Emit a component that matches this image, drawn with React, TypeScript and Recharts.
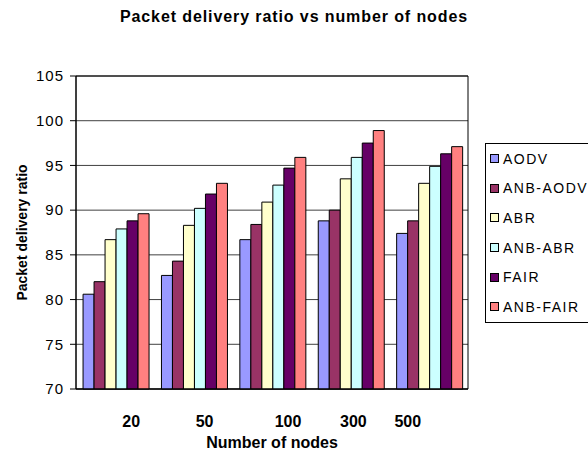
import React from "react";
import {
  BarChart,
  Bar,
  XAxis,
  YAxis,
  CartesianGrid,
  Label,
  ReferenceArea,
} from "recharts";

const categories = ["20", "50", "100", "300", "500"];
const aodv = [80.6, 82.7, 86.7, 88.8, 87.4];
const anbAodv = [82.0, 84.3, 88.4, 90.0, 88.8];
const abr = [86.7, 88.3, 90.9, 93.5, 93.0];
const anbAbr = [87.9, 90.2, 92.8, 95.9, 94.9];
const fair = [88.8, 91.8, 94.7, 97.5, 96.3];
const anbFair = [89.6, 93.0, 95.9, 98.9, 97.1];
const yTicks = [70, 75, 80, 85, 90, 95, 100, 105];

const SERIES = [
  { key: "AODV", values: aodv, color: "#9999FF" },
  { key: "ANB-AODV", values: anbAodv, color: "#993366" },
  { key: "ABR", values: abr, color: "#FFFFCC" },
  { key: "ANB-ABR", values: anbAbr, color: "#CCFFFF" },
  { key: "FAIR", values: fair, color: "#660066" },
  { key: "ANB-FAIR", values: anbFair, color: "#FF8080" },
];

// the category labels sit a little off their groups in the original
const labelShift = [16, 11, 16, 3, -21];

const FONT = "'Liberation Sans', Arial, sans-serif";

const data = categories.map((c, i) => {
  const row: Record<string, string | number> = { nodes: c };
  SERIES.forEach((s) => (row[s.key] = s.values[i]));
  return row;
});

function NodeTick(props: any) {
  const { x, y, payload, index } = props;
  return (
    <text
      x={x + (labelShift[index] ?? 0)}
      y={y}
      dy="0.71em"
      textAnchor="middle"
      fontFamily={FONT}
      fontSize={16}
      fontWeight="bold"
      fill="#000"
    >
      {payload.value}
    </text>
  );
}

function LegendBox() {
  return (
    <div
      style={{
        position: "absolute",
        left: 485,
        top: 143,
        border: "1px solid #000",
        width: 112,
        fontFamily: FONT,
        fontSize: 14,
        letterSpacing: 1.5,
        background: "#fff",
      }}
    >
      {SERIES.map((s) => (
        <div
          key={s.key}
          style={{ height: 29.6, display: "flex", alignItems: "center", paddingLeft: 4 }}
        >
          <span
            style={{
              display: "inline-block",
              width: 7,
              height: 7,
              border: "1px solid #000",
              background: s.color,
              marginRight: 4,
            }}
          />
          <span style={{ whiteSpace: "nowrap" }}>{s.key}</span>
        </div>
      ))}
    </div>
  );
}

export default function App() {
  return (
    <div
      style={{
        position: "absolute",
        left: 0,
        top: 0,
        width: 588,
        height: 451,
        overflow: "hidden",
        background: "#fff",
      }}
    >
      <div
        style={{
          position: "absolute",
          left: 294,
          top: 8,
          transform: "translateX(-50%)",
          whiteSpace: "nowrap",
          fontFamily: FONT,
          fontSize: 16,
          letterSpacing: 0.9,
          fontWeight: "bold",
        }}
      >
        Packet delivery ratio vs number of nodes
      </div>
      <BarChart
        width={588}
        height={451}
        data={data}
        margin={{ top: 76, right: 120, bottom: 0, left: 0 }}
        barCategoryGap="9%"
        barGap={0}
      >
        <CartesianGrid vertical={false} stroke="#404040" />
        <ReferenceArea y1={70} y2={105} fill="none" stroke="#000" strokeWidth={1} ifOverflow="visible" />
        <XAxis
          dataKey="nodes"
          height={62}
          axisLine={{ stroke: "#000" }}
          tickLine={false}
          tickSize={0}
          tickMargin={27}
          tick={<NodeTick />}
          interval={0}
        >
          <Label
            value="Number of nodes"
            position="insideBottom"
            offset={3}
            style={{ fontFamily: FONT, fontSize: 16, fontWeight: "bold", fill: "#000" }}
          />
        </XAxis>
        <YAxis
          width={76}
          domain={[70, 105]}
          ticks={yTicks}
          interval={0}
          axisLine={{ stroke: "#000" }}
          tickLine={{ stroke: "#000" }}
          tickSize={6}
          tickMargin={6}
          tick={{ fontFamily: FONT, fontSize: 15, fill: "#000", letterSpacing: 1 }}
        >
          <Label
            value="Packet delivery ratio"
            angle={-90}
            position="center"
            dx={-16}
            style={{ fontFamily: FONT, fontSize: 14, fontWeight: "bold", fill: "#000", textAnchor: "middle" }}
          />
        </YAxis>
        {SERIES.map((s) => (
          <Bar
            key={s.key}
            dataKey={s.key}
            fill={s.color}
            stroke="#000"
            strokeWidth={1}
            isAnimationActive={false}
          />
        ))}
      </BarChart>
      <LegendBox />
    </div>
  );
}
